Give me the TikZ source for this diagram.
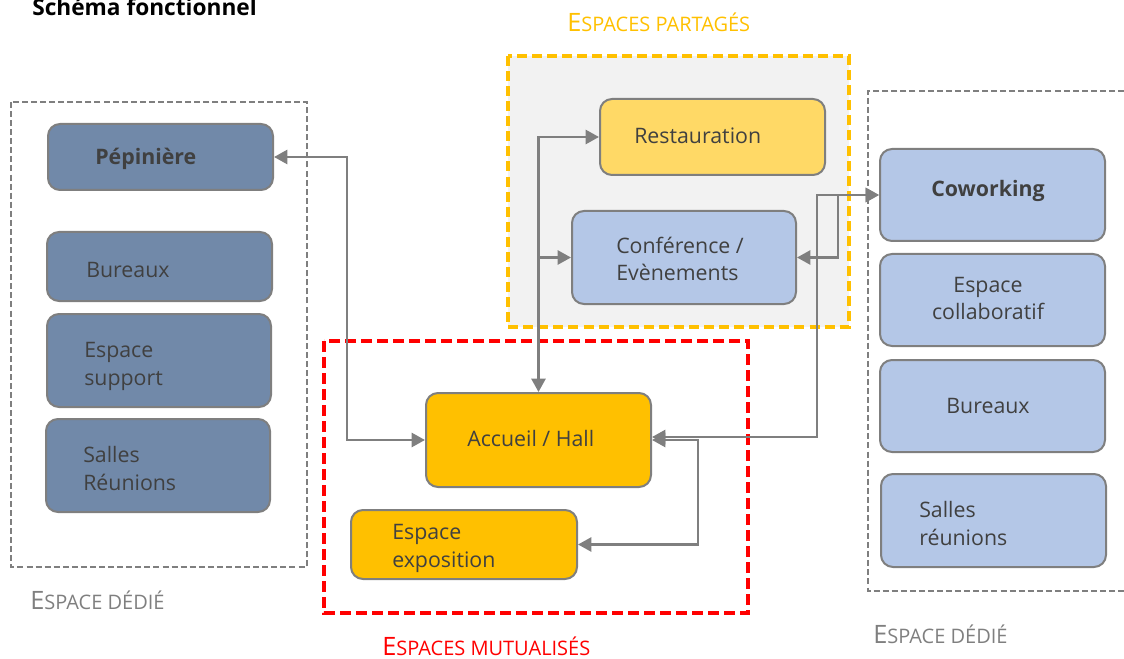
\documentclass[tikz,border=0pt]{standalone}
\usepackage{fontspec}
\setmainfont{Open Sans}
\usetikzlibrary{arrows.meta,calc}
\definecolor{slate}{HTML}{7189A9}
\definecolor{lblue}{HTML}{B4C7E7}
\definecolor{lyellow}{HTML}{FFD966}
\definecolor{gold}{HTML}{FFC000}
\definecolor{cgray}{HTML}{7F7F7F}
\definecolor{txtgray}{HTML}{404040}
\definecolor{bggray}{HTML}{F2F2F2}
\definecolor{pred}{HTML}{FF0000}
\newcommand\fauxsc[2]{{\fontsize{19pt}{20pt}\selectfont #1}{\fontsize{15pt}{16pt}\selectfont #2}}
\begin{document}
\begin{tikzpicture}[x=0.75pt,y=-0.75pt,
  sz/.style 2 args={minimum width=#1*0.75pt, minimum height=#2*0.75pt},
  bx/.style={draw=cgray, line width=1.5pt, rounded corners=9pt, inner sep=0pt},
  txt/.style={text=txtgray, font=\fontsize{16pt}{19pt}\selectfont, inner sep=0pt, anchor=base west},
  txtc/.style={text=txtgray, font=\fontsize{16pt}{19pt}\selectfont, inner sep=0pt, anchor=base},
  txtb/.style={text=txtgray, font=\fontsize{16pt}{19pt}\selectfont\bfseries, inner sep=0pt},
  gframe/.style={draw=cgray, line width=1.6pt, dash pattern=on 4.5pt off 2.3pt},
  conn/.style={draw=cgray, line width=1.9pt},
  >={Triangle[length=10pt,width=10.5pt]},
  lbl/.style={inner sep=0pt, anchor=base west}]
\useasboundingbox (0,0) rectangle (1124,659);

% title
\node[lbl, font=\fontsize{17pt}{20pt}\selectfont\bfseries] (title) at (32,16) {Schéma fonctionnel};

% group frames
\draw[gframe] (11,102) rectangle (307,567);
\draw[fill=bggray, draw=gold, line width=2.4pt, dash pattern=on 7.5pt off 3.8pt] (508,56) rectangle (849,327);
\draw[draw=pred, line width=2.6pt, dash pattern=on 8pt off 4pt] (324,341) rectangle (748,613);
\draw[gframe] (1124,91) -- (868,91) -- (868,591) -- (1124,591);

% group labels
\node[lbl, text=gold] (lpart) at (567,32) {\fauxsc{E}{SPACES PARTAGÉS}};
\node[lbl, text=cgray] (ldedl) at (30,609) {\fauxsc{E}{SPACE DÉDIÉ}};
\node[lbl, text=pred] (lmut) at (382,655) {\fauxsc{E}{SPACES MUTUALISÉS}};
\node[lbl, text=cgray] (ldedr) at (873,643) {\fauxsc{E}{SPACE DÉDIÉ}};

% left column
\node[bx, fill=slate, sz={225}{66}] (pep) at (160.5,157) {};
\node[bx, fill=slate, sz={225}{69}] (bur1) at (159.5,266.5) {};
\node[bx, fill=slate, sz={224}{93}] (sup) at (159,360.5) {};
\node[bx, fill=slate, sz={224}{93}] (sal1) at (158,465.5) {};
\node[txtb, anchor=base west] (tpep) at (95,165) {Pépinière};
\node[txt] (tbur1) at (86,277) {Bureaux};
\node[txt] (tsup1) at (84,357) {Espace};
\node[txt] (tsup2) at (84,385) {support};
\node[txt] (tsal1) at (83,462) {Salles};
\node[txt] (tsal2) at (83,490) {Réunions};

% shared spaces
\node[bx, fill=lyellow, sz={225}{76}] (rest) at (712.5,137) {};
\node[bx, fill=lblue, sz={224}{93}] (conf) at (684,257.5) {};
\node[txt] (trest) at (634,144) {Restauration};
\node[txt] (tconf1) at (616,253) {Conférence /};
\node[txt] (tconf2) at (616,281) {Evènements};

% mutualised spaces
\node[bx, fill=gold, sz={225}{94}] (acc) at (538.5,440) {};
\node[bx, fill=gold, sz={226}{69}] (expo) at (464,544.5) {};
\node[txt] (tacc) at (467,446) {Accueil / Hall};
\node[txt] (texpo1) at (392,539) {Espace};
\node[txt] (texpo2) at (392,567) {exposition};

% right column
\node[bx, fill=lblue, sz={225}{92}] (cow) at (992.5,195) {};
\node[bx, fill=lblue, sz={225}{92}] (collab) at (992.5,300) {};
\node[bx, fill=lblue, sz={225}{92}] (bur2) at (992.5,406) {};
\node[bx, fill=lblue, sz={225}{93}] (sal2) at (993.5,520.5) {};
\node[txtb, anchor=base] (tcow) at (988,197) {Coworking};
\node[txtc] (tcol1) at (988,292) {Espace};
\node[txtc] (tcol2) at (988,320) {collaboratif};
\node[txtc] (tbur2) at (988,413) {Bureaux};
\node[txt] (tsal3) at (919,517) {Salles};
\node[txt] (tsal4) at (919,545) {réunions};

% routing coordinates
\coordinate (xa) at (347,0);
\coordinate (xb) at (838,0);
\coordinate (xc) at (817,0);
\coordinate (xd) at (698,0);
\coordinate (accE) at ($(acc.east)+(0,-3)$);

% connectors
\draw[conn,<->] (pep.east) -- (pep.east -| xa) |- (acc.west);
\draw[conn,<->] (acc.north) |- (rest.west);
\draw[conn,->] (acc.north |- conf.west) -- (conf.west);
\draw[conn,<->] (conf.east) -- (conf.east -| xb) |- (cow.west);
\draw[conn,<->] (accE) -- (accE -| xc) |- (cow.west);
\draw[conn,<->] (acc.east) -- (acc.east -| xd) |- (expo.east);
\end{tikzpicture}
\end{document}
